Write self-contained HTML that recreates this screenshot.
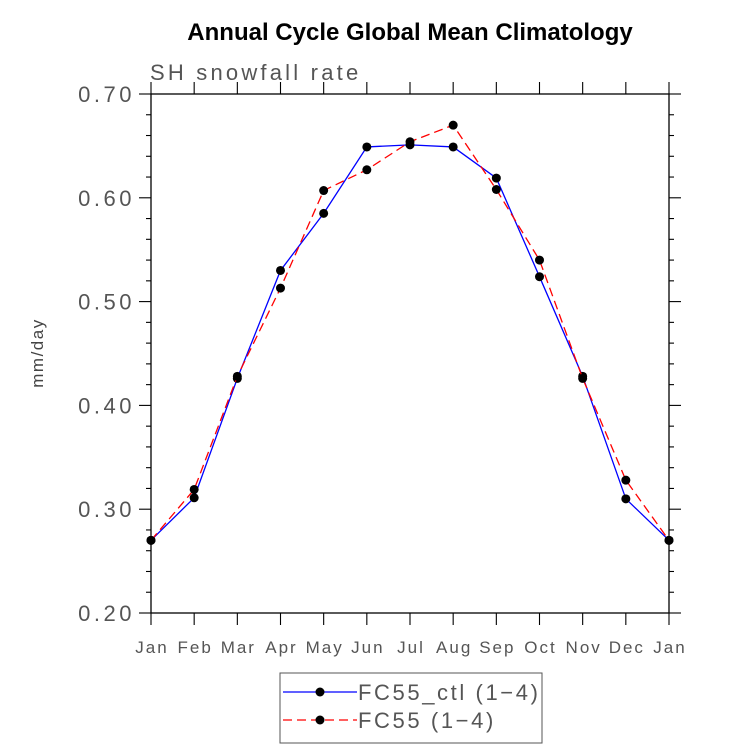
<!DOCTYPE html>
<html><head><meta charset="utf-8"><style>
html,body{margin:0;padding:0;background:#fff;}
svg text{font-family:"Liberation Sans",sans-serif;}
</style></head><body>
<svg id="chart" width="733" height="748" xmlns="http://www.w3.org/2000/svg">
<text x="410" y="40" text-anchor="middle" font-size="24" font-weight="bold" fill="#000">Annual Cycle Global Mean Climatology</text>
<text x="150" y="80" font-size="22" fill="#555" letter-spacing="3.2">SH snowfall rate</text>
<text transform="translate(43,353) rotate(-90)" text-anchor="middle" font-size="17" fill="#444" letter-spacing="1.5">mm/day</text>
<g id="axes"></g>
<g id="series"></g>
<g>
<rect x="280" y="673" width="262" height="70" fill="none" stroke="#555" stroke-width="1"/>
<line x1="283" y1="692" x2="357" y2="692" stroke="#00f" stroke-width="1.3"/>
<circle cx="320" cy="692" r="4.5" fill="#000"/>
<text x="358" y="700" font-size="22" fill="#555" letter-spacing="2.6">FC55_ctl (1−4)</text>
<line x1="283" y1="720" x2="357" y2="720" stroke="#f00" stroke-width="1.3" stroke-dasharray="9,5"/>
<circle cx="320" cy="720" r="4.5" fill="#000"/>
<text x="358" y="728" font-size="22" fill="#555" letter-spacing="2.6">FC55 (1−4)</text>
</g>
</svg>
<script>
const months = ["Jan","Feb","Mar","Apr","May","Jun","Jul","Aug","Sep","Oct","Nov","Dec","Jan"];
const ctlValues = [0.270,0.311,0.426,0.530,0.585,0.649,0.651,0.649,0.619,0.524,0.428,0.310,0.270];
const fc55Values = [0.270,0.319,0.428,0.513,0.607,0.627,0.654,0.670,0.608,0.540,0.426,0.328,0.270];
const yTicks = ["0.20","0.30","0.40","0.50","0.60","0.70"];
const NS="http://www.w3.org/2000/svg";
const L=151,R=669,T=94,B=613,yMin=0.2,yMax=0.7;
function xS(i){return L+(R-L)*i/(months.length-1);}
function yS(v){return B-(v-yMin)/(yMax-yMin)*(B-T);}
function mk(tag,attrs,parent){const e=document.createElementNS(NS,tag);for(const k in attrs)e.setAttribute(k,attrs[k]);parent.appendChild(e);return e;}
const ax=document.getElementById('axes');
const frame=mk('rect',{x:L,y:T,width:R-L,height:B-T,fill:'none',stroke:'#000','stroke-width':1.3},ax);


for(let v=0.2;v<=0.7001;v+=0.02){
  const y=yS(v);const major=Math.abs(Math.round(v*10)-v*10)<1e-6;const len=major?12:5;
  mk('line',{x1:L-len,y1:y,x2:L,y2:y,stroke:'#000','stroke-width':1.1},ax);
  mk('line',{x1:R,y1:y,x2:R+len,y2:y,stroke:'#000','stroke-width':1.1},ax);
}
yTicks.forEach(t=>{
  const tx=mk('text',{x:135,y:yS(parseFloat(t))+8,'text-anchor':'end','font-size':22,fill:'#555','letter-spacing':3.5},ax);
  tx.textContent=t;
  
  
});
months.forEach((m,i)=>{
  const x=xS(i);
  mk('line',{x1:x,y1:B,x2:x,y2:B+12,stroke:'#000','stroke-width':1.1},ax);
  mk('line',{x1:x,y1:T,x2:x,y2:T-12,stroke:'#000','stroke-width':1.1},ax);
  const tx=mk('text',{x:x+1,y:B+40,'text-anchor':'middle','font-size':17,fill:'#555','letter-spacing':2},ax);
  tx.textContent=m;
  
  
});
const sg=document.getElementById('series');
function drawSeries(vals,color,dash,name){
  const g=mk('g',{},sg);
  
  
  const pts=vals.map((v,i)=>xS(i)+','+yS(v)).join(' ');
  const a={points:pts,fill:'none',stroke:color,'stroke-width':1.3};
  if(dash)a['stroke-dasharray']=dash;
  mk('polyline',a,g);
  vals.forEach((v,i)=>{
    const c=mk('circle',{cx:xS(i),cy:yS(v),r:4.5,fill:'#000'},g);
    
    
  });
}
drawSeries(ctlValues,'#00f',null,'series-fc55-ctl');
drawSeries(fc55Values,'#f00','9,5','series-fc55');
</script>
</body></html>
